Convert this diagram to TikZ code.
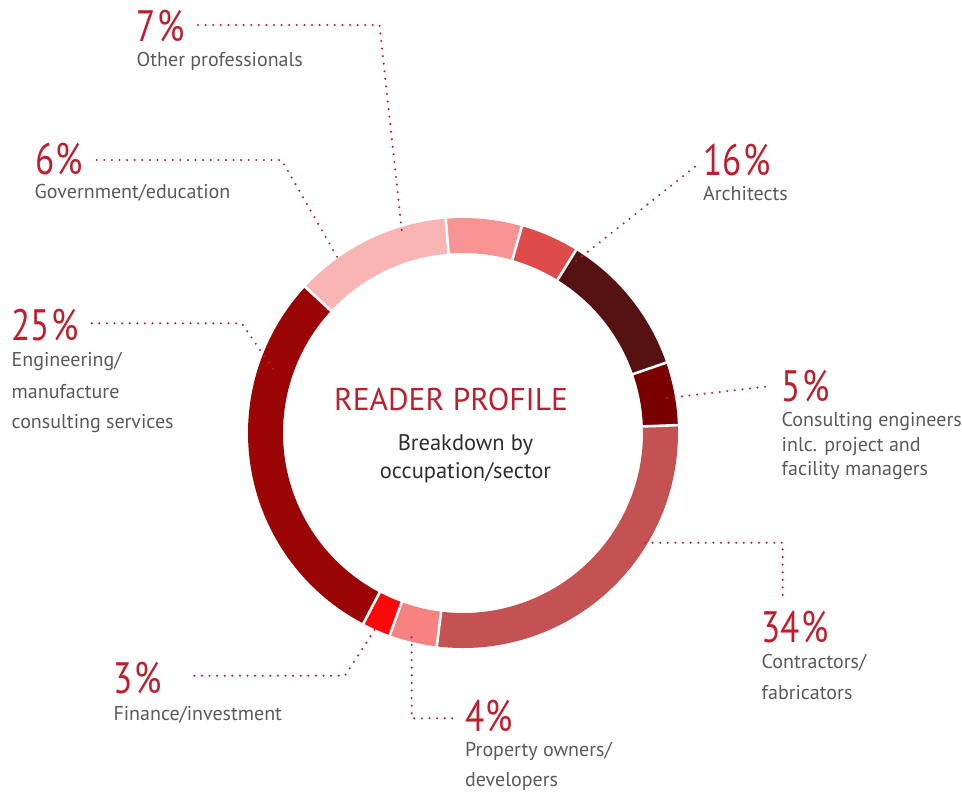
\documentclass[tikz,border=0pt]{standalone}
\usepackage{fontspec}
\setmainfont{PT Sans}
\newfontfamily\pctfont[FakeStretch=0.8]{PT Sans}
\usetikzlibrary{calc}
\definecolor{txtred}{HTML}{BE1E2D}
\definecolor{txtgray}{HTML}{58595B}
\definecolor{txtdark}{HTML}{2E2E2E}
\definecolor{cA}{HTML}{C45252}
\definecolor{cB}{HTML}{7A0000}
\definecolor{cC}{HTML}{561212}
\definecolor{cD}{HTML}{DF4B4B}
\definecolor{cE}{HTML}{F79393}
\definecolor{cF}{HTML}{F9B4B4}
\definecolor{cG}{HTML}{9C0505}
\definecolor{cH}{HTML}{FD0808}
\definecolor{cI}{HTML}{F78282}
\begin{document}
\begin{tikzpicture}[x=1pt,y=1pt,
  pct/.style={anchor=base west, inner sep=0pt, text depth=0pt, text=txtred, font=\pctfont\fontsize{44}{44}\selectfont},
  lbl/.style={anchor=base west, inner sep=0pt, text=txtgray, font=\fontsize{20}{24}\selectfont},
  leader/.style={draw=txtred, line width=2.3pt, line cap=round, dash pattern=on 0pt off 7.6pt},
  gap/.style={draw=white, line width=2.6pt}]
\path[use as bounding box] (0,0) rectangle (962,-796);
\coordinate (C) at (463,-433);
% ring segments
\foreach \a/\b/\c in {-97/2.1/cA, 2.1/19.1/cB, 19.1/58.3/cC, 58.3/74.1/cD, 74.1/94.6/cE, 94.6/137.2/cF, 137.2/242.4/cG, 242.4/250.1/cH, 250.1/263/cI}{
  \fill[\c] ($(C)+(\a:215)$) arc[start angle=\a, end angle=\b, radius=215]
     -- ($(C)+(\b:180)$) arc[start angle=\b, end angle=\a, radius=180] -- cycle;
}
\foreach \a in {-97,2.1,19.1,58.3,74.1,94.6,137.2,242.4,250.1}{
  \draw[gap] ($(C)+(\a:177)$) -- ($(C)+(\a:218)$);
}
% centre text
\node[inner sep=0pt, anchor=base, text=txtred, font=\fontsize{31.5}{31.5}\selectfont] (title) at (451,-410) {READER PROFILE};
\node[inner sep=0pt, anchor=base, text=txtdark, font=\fontsize{22.5}{22.5}\selectfont] (sub1) at (465.5,-450.7) {Breakdown by};
\node[inner sep=0pt, anchor=base, text=txtdark, font=\fontsize{22.5}{22.5}\selectfont] (sub2) at (465.5,-478.3) {occupation/sector};
% labels
\node[pct] (p7) at (136.5,-41.7) {7\kern1.5pt\%};
\node[lbl] (l7) at (136.5,-66.5) {Other professionals};
\node[pct] (p6) at (35,-174.5) {6\kern1.5pt\%};
\node[lbl] (l6) at (34.5,-198) {Government/education};
\node[pct] (p16) at (703,-175) {16\kern1.5pt\%};
\node[lbl] (l16) at (703,-200) {Architects};
\node[pct] (p5) at (781.5,-401.7) {5\kern1.5pt\%};
\node[lbl] (l5a) at (781.5,-426.7) {Consulting engineers};
\node[lbl] (l5b) at (781.5,-451.5) {inlc. project and};
\node[lbl] (l5c) at (781.5,-475) {facility managers};
\node[pct] (p25) at (11.5,-340) {25\kern1.5pt\%};
\node[lbl] (l25a) at (11.5,-366.7) {Engineering/};
\node[lbl] (l25b) at (11.5,-398.3) {manufacture};
\node[lbl] (l25c) at (11.5,-428.3) {consulting services};
\node[pct] (p34) at (761.5,-642.7) {34\kern1.5pt\%};
\node[lbl] (l34a) at (761.5,-668.3) {Contractors/};
\node[lbl] (l34b) at (761.5,-699.3) {fabricators};
\node[pct] (p3) at (113.3,-693.3) {3\kern1.5pt\%};
\node[lbl] (l3) at (113.3,-720) {Finance/investment};
\node[pct] (p4) at (465,-731.7) {4\kern1.5pt\%};
\node[lbl] (l4a) at (465,-756.7) {Property owners/};
\node[lbl] (l4b) at (465,-786.7) {developers};
% leader coordinates
\coordinate (s7) at (198,-25);   \coordinate (k7) at (379.5,-25);  \coordinate (e7) at (401.7,-230);
\coordinate (s6) at (96.7,-160); \coordinate (k6) at (281.7,-160); \coordinate (e6) at (340,-262);
\coordinate (s16) at (695,-166.7); \coordinate (e16) at (573.3,-263.3);
\coordinate (s5) at (765,-386.7); \coordinate (e5) at (665,-398.3);
\coordinate (s34) at (645,-542.7); \coordinate (k34) at (782.7,-542.7); \coordinate (e34) at (782.7,-599.3);
\coordinate (s4) at (411.7,-637.3); \coordinate (k4) at (411.7,-718.3); \coordinate (e4) at (458.3,-718.3);
\coordinate (s3) at (194.3,-675.7); \coordinate (k3) at (345,-675.7); \coordinate (e3) at (376.7,-626.7);
\coordinate (s25) at (91.7,-323.3); \coordinate (k25) at (241.7,-323.3); \coordinate (e25) at (275,-371.7);
% leaders
\draw[leader] (s7) -- (k7) -- (e7);
\draw[leader] (s6) -- (k6) -- (e6);
\draw[leader] (s16) -- (e16);
\draw[leader] (s5) -- (e5);
\draw[leader] (s34) -- (k34) -- (e34);
\draw[leader] (s4) -- (k4) -- (e4);
\draw[leader] (s3) -- (k3) -- (e3);
\draw[leader] (s25) -- (k25) -- (e25);
\end{tikzpicture}
\end{document}
